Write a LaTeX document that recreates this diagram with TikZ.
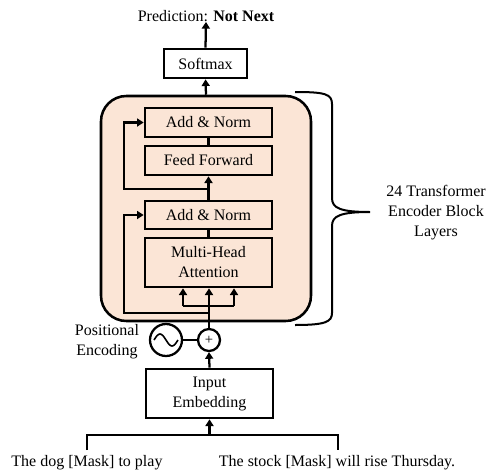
\documentclass[tikz,border=0pt]{standalone}
\usepackage{fontspec}
\setmainfont{Liberation Serif}
\usetikzlibrary{arrows.meta}
\definecolor{peach}{RGB}{251,229,214}
\begin{document}
\begin{tikzpicture}[x=0.75pt,y=-0.75pt,
  font=\fontsize{12}{15}\selectfont,
  blk/.style={draw, line width=2pt, fill=peach, align=center, inner sep=0pt, minimum width=95.25pt},
  wblk/.style={blk, fill=white},
  conn/.style={line width=1.7pt},
  arr/.style={conn, -{Triangle[length=5pt,width=6pt]}},
  lbl/.style={align=center, inner sep=0pt}]
\useasboundingbox (0,0) rectangle (489,472);
% outer encoder block
\node (enc) [draw, line width=1.9pt, fill=peach, rounded corners=19pt,
  minimum width=157.5pt, minimum height=168.75pt] at (206,208.5) {};
% inner blocks
\node (an2) [blk, minimum height=21.75pt] at (208.5,122.5) {Add \& Norm};
\node (ff)  [blk, minimum height=21.75pt] at (208.5,160.5) {Feed Forward};
\node (an1) [blk, minimum height=21pt] at (208.5,215) {Add \& Norm};
\node (mha) [blk, minimum height=36.75pt] at (208.5,262.5) {Multi-Head\\Attention};
% softmax and prediction
\node (soft) [wblk, minimum width=62.25pt, minimum height=21.75pt] at (205.5,63.5) {Softmax};
\node (pred) [lbl] at (206,16) {Prediction: \textbf{Not Next}};
% bottom part
\node (emb) [wblk, minimum height=36.75pt] at (209.5,393.5) {Input\\Embedding};
\node (plus) [circle, draw, line width=1.7pt, fill=white, minimum size=16.5pt, inner sep=0pt] at (209,340) {\fontsize{11}{11}\selectfont +};
\node (sine) [circle, draw, line width=1.7pt, fill=white, minimum size=24pt, inner sep=0pt] at (166,340) {};
\draw[line width=1.2pt] (154,340) sin (160,334) cos (166,340) sin (172,346) cos (178,340);
\node (pos) [lbl] at (107,342) {Positional\\Encoding};
% junction coordinates
\coordinate (j1) at (209,313);
\coordinate (j2) at (209,306);
\coordinate (fa) at (183,306);
\coordinate (fc) at (234,306);
\coordinate (r1) at (124,313);
\coordinate (j3) at (208.5,189);
\coordinate (r2) at (124,189);
% connectors
\draw[arr] (emb.north) -- (plus.south);
\draw[conn] (sine.east) -- (plus.west);
\draw[conn] (plus.north) -- (j2);
\draw[conn] (fa) -- (fc);
\draw[arr] (fa) -- (fa |- mha.south);
\draw[arr] (j2) -- (j2 |- mha.south);
\draw[arr] (fc) -- (fc |- mha.south);
\draw[arr] (j1) -- (r1) |- (an1.west);
\draw[conn] (mha.north) -- (an1.south);
\draw[arr] (an1.north) -- (ff.south);
\draw[arr] (j3) -- (r2) |- (an2.west);
\draw[conn] (ff.north) -- (an2.south);
\draw[arr] (enc.north) -- (soft.south);
\draw[arr] (soft.north) -- (pred.south);
% input bracket
\coordinate (bl) at (87,450);
\coordinate (br) at (338,450);
\coordinate (bm) at (209.5,435);
\draw[conn] (bl) -- (87,435) -- (338,435) -- (br);
\draw[arr] (bm) -- (emb.south);
\node (t1) [lbl] at (87,463) {The dog [Mask] to play};
\node (t2) [lbl] at (337,463) {The stock [Mask] will rise Thursday.};
% brace
\draw[line width=1.5pt] (295,92) .. controls (325,92) and (332,94) .. (332,104) -- (332,198)
  .. controls (332,208) and (340,212) .. (370,212)
  .. controls (340,212) and (332,216) .. (332,226) -- (332,313)
  .. controls (332,322) and (325,325) .. (295,325);
\node (lay) [lbl] at (436,213) {24 Transformer\\Encoder Block\\Layers};
\end{tikzpicture}
\end{document}
